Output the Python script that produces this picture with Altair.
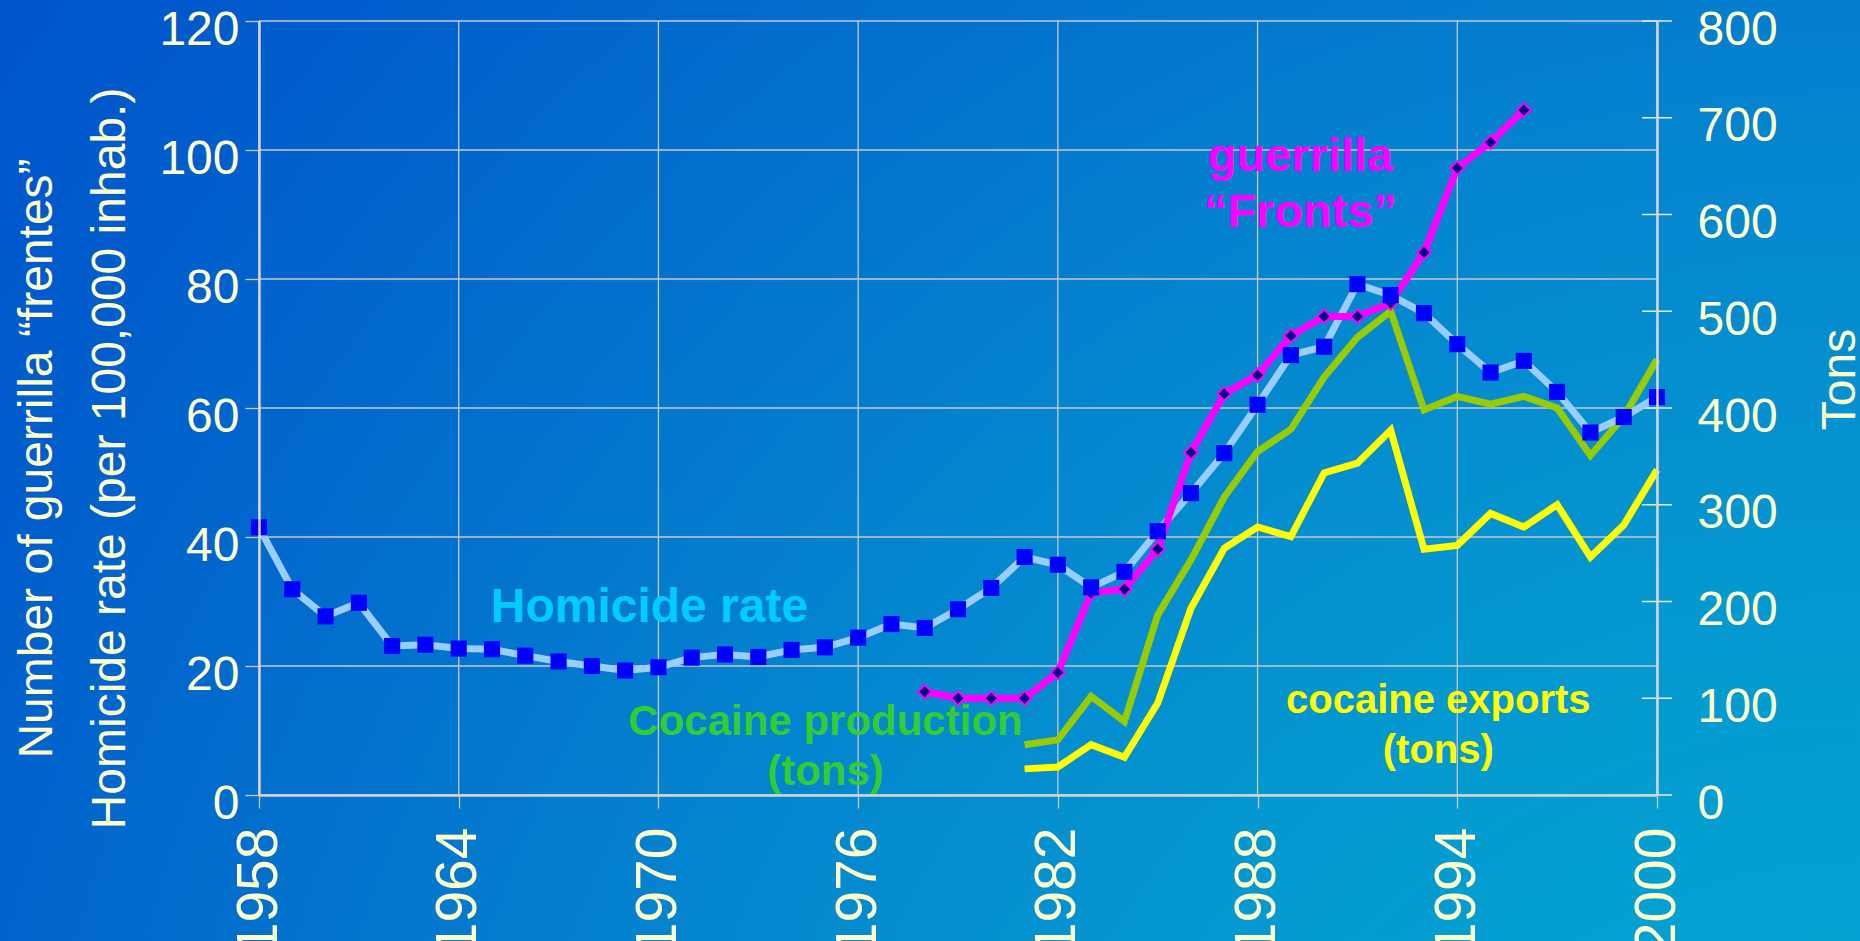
import altair as alt
import pandas as pd

# ---------------- data ----------------
years = list(range(1958, 2001))
homicide_rate = [41.5, 31.9, 27.7, 29.8, 23.1, 23.3, 22.7, 22.6, 21.6, 20.7,
                 20.0, 19.3, 19.8, 21.3, 21.8, 21.4, 22.5, 22.9, 24.4, 26.5,
                 25.9, 28.8, 32.1, 36.9, 35.7, 32.2, 34.6, 40.9, 46.8, 53.0,
                 60.5, 68.2, 69.5, 79.2, 77.5, 74.7, 69.9, 65.5, 67.3, 62.5,
                 56.2, 58.6, 61.7]

fronts_years = list(range(1978, 1997))
guerrilla_fronts = [16.0, 15.0, 15.0, 15.0, 19.0, 31.3, 31.9, 38.1, 53.1, 62.2,
                    65.1, 71.2, 74.2, 74.2, 76.3, 84.1, 97.2, 101.2, 106.2]

coca_years = list(range(1981, 2001))
cocaine_production = [52, 57, 102, 76, 186, 243, 308, 355, 378, 432,
                      473, 500, 398, 412, 404, 412, 400, 351, 391, 450]
cocaine_exports = [27, 29, 52, 39, 95, 193, 255, 277, 267, 333,
                   343, 377, 254, 258, 291, 277, 300, 246, 279, 336]

x_ticks = [1958, 1964, 1970, 1976, 1982, 1988, 1994, 2000]
left_ticks = [0, 20, 40, 60, 80, 100, 120]
right_ticks = [0, 100, 200, 300, 400, 500, 600, 700, 800]

left_title = ["Number of guerrilla \u201cfrentes\u201d",
              "Homicide rate (per 100,000 inhab.)"]
right_title = "Tons"

# annotation labels (text, year, value on left axis)
ann_homicide = ("Homicide rate", 1969.73, 26.8)
ann_fronts = ("guerrilla\n\u201cFronts\u201d", 1989.29, 96.8)
ann_prod = ("Cocaine production\n(tons)", 1975.02, 9.3)
ann_exp = ("cocaine exports\n(tons)", 1993.43, 12.7)

# ---------------- styles ----------------
FONT = "Liberation Sans"
CREAM = "#ffffcc"
GRID = "#c8c8c8"
DOMAIN = "#d4d4d4"
W, H = 1398, 774
PAD = {"left": 259, "top": 21, "right": 1860 - 259 - W, "bottom": 941 - 21 - H}

hom_df = pd.DataFrame({"year": years, "value": homicide_rate})
fr_df = pd.DataFrame({"year": fronts_years, "value": guerrilla_fronts})
cp_df = pd.DataFrame({"year": coca_years, "value": cocaine_production})
ce_df = pd.DataFrame({"year": coca_years, "value": cocaine_exports})
vgrid_df = pd.DataFrame({"year": x_ticks})
hgrid_df = pd.DataFrame({"value": left_ticks})
rtick_df = pd.DataFrame({"year": [x_ticks[-1]] * len(right_ticks), "value": right_ticks})

xscale = alt.Scale(domain=[1958, 2000], nice=False, zero=False)
xaxis = alt.Axis(values=x_ticks, format="d", labelAngle=270, labelFontSize=57,
                 labelFont=FONT, labelColor=CREAM, labelPadding=19, tickSize=13,
                 tickColor=GRID, tickWidth=1.3, domainColor=DOMAIN, domainWidth=2.5,
                 grid=False, title=None, labelFlush=False, labelOverlap=False,
                 zindex=1)
lscale = alt.Scale(domain=[0, 120], nice=False, zero=True)
rscale = alt.Scale(domain=[0, 800], nice=False, zero=True)

left_axis = alt.Axis(orient="left", values=left_ticks, labelFontSize=48, labelFont=FONT,
                     labelColor=CREAM, labelPadding=6, labelOffset=9, tickSize=14,
                     tickColor=GRID, tickWidth=1.3, domainColor=DOMAIN, domainWidth=2.5,
                     grid=False, labelFlush=False, title=left_title, titleFont=FONT,
                     titleFontSize=48, titleFontWeight="normal", titleColor=CREAM,
                     titleAngle=270, titleAlign="center", titleBaseline="alphabetic",
                     titleLineHeight=73, titleX=-208, titleY=437, zindex=1)
right_axis = alt.Axis(orient="right", values=right_ticks, labelFontSize=48, labelFont=FONT,
                      labelColor=CREAM, labelPadding=40, labelOffset=9, ticks=False,
                      domainColor=DOMAIN, domainWidth=2.5, grid=False, labelFlush=False,
                      title=right_title, titleFont=FONT, titleFontSize=48,
                      titleFontWeight="normal", titleColor=CREAM, titleAngle=270,
                      titleAlign="center", titleBaseline="alphabetic", titleX=197,
                      titleY=358, zindex=1)


def X():
    return alt.X("year:Q", scale=xscale, axis=xaxis)


def YL(axis=None):
    return alt.Y("value:Q", scale=lscale, axis=axis)


def YR(axis=None):
    return alt.Y("value:Q", scale=rscale, axis=axis)


bg_fill = {"gradient": "radial", "x1": 1, "y1": 1, "r1": 0, "x2": 1, "y2": 1, "r2": 1.25,
           "stops": [{"offset": 0, "color": "#00aed2"},
                     {"offset": 0.35, "color": "#0498d0"},
                     {"offset": 0.55, "color": "#0484cf"},
                     {"offset": 0.75, "color": "#026ccd"},
                     {"offset": 0.88, "color": "#005ecc"},
                     {"offset": 1, "color": "#0054cc"}]}

bg = alt.Chart(pd.DataFrame({"a": [0]})).mark_rect(fill=bg_fill, strokeWidth=0).encode(
    x=alt.value(-PAD["left"]), x2=alt.value(W + PAD["right"]),
    y=alt.value(-PAD["top"]), y2=alt.value(H + PAD["bottom"]))

vgrid = alt.Chart(vgrid_df).mark_rule(color=GRID, strokeWidth=1.3).encode(x=X())
hgrid = alt.Chart(hgrid_df).mark_rule(color=GRID, strokeWidth=1.3).encode(y=YL(left_axis))

cp_line = alt.Chart(cp_df).mark_line(color="#99cc00", strokeWidth=7).encode(
    x=X(), y=YR(right_axis))
ce_line = alt.Chart(ce_df).mark_line(color="#ffff00", strokeWidth=7).encode(
    x=X(), y=YR())
rticks = alt.Chart(rtick_df).mark_tick(orient="horizontal", size=30, thickness=1.5,
                                       color="#e8e8e8", opacity=1).encode(x=X(), y=YR())

hom_line = alt.Chart(hom_df).mark_line(color="#99ccff", strokeWidth=7).encode(x=X(), y=YL())
hom_pts = alt.Chart(hom_df).mark_point(shape="square", filled=True, size=260,
                                       color="#0000ff", opacity=1).encode(x=X(), y=YL())
fr_line = alt.Chart(fr_df).mark_line(color="#ff00ff", strokeWidth=7).encode(x=X(), y=YL())
fr_pts = alt.Chart(fr_df).mark_point(shape="diamond", filled=False, size=190,
                                     fill="#000080", fillOpacity=1, stroke="#ff00ff",
                                     strokeWidth=2, opacity=1).encode(x=X(), y=YL())


def ann(item, color, size, lh):
    df = pd.DataFrame({"label": [item[0]], "year": [item[1]], "value": [item[2]]})
    return alt.Chart(df).mark_text(font=FONT, fontWeight="bold", fontSize=size, color=color,
                                   align="center", baseline="alphabetic", lineBreak="\n",
                                   lineHeight=lh).encode(x=X(), y=YL(), text="label:N")


t_hom = ann(ann_homicide, "#00ccff", 48, 56)
t_fr = ann(ann_fronts, "#ff00ff", 47, 56)
t_cp = ann(ann_prod, "#33cc33", 42, 50)
t_ce = ann(ann_exp, "#ffff00", 40, 50)

chart = alt.layer(bg, vgrid, hgrid, cp_line, ce_line, rticks, hom_line, fr_line, fr_pts,
                  hom_pts, t_hom, t_fr, t_cp, t_ce).resolve_scale(
    y="independent").properties(
    width=W, height=H, padding=PAD, autosize=alt.AutoSizeParams(type="none"),
    background="#0070cc").configure_view(stroke=None).configure(font=FONT)

chart.save("out.html", embed_options={"renderer": "svg", "actions": False})
